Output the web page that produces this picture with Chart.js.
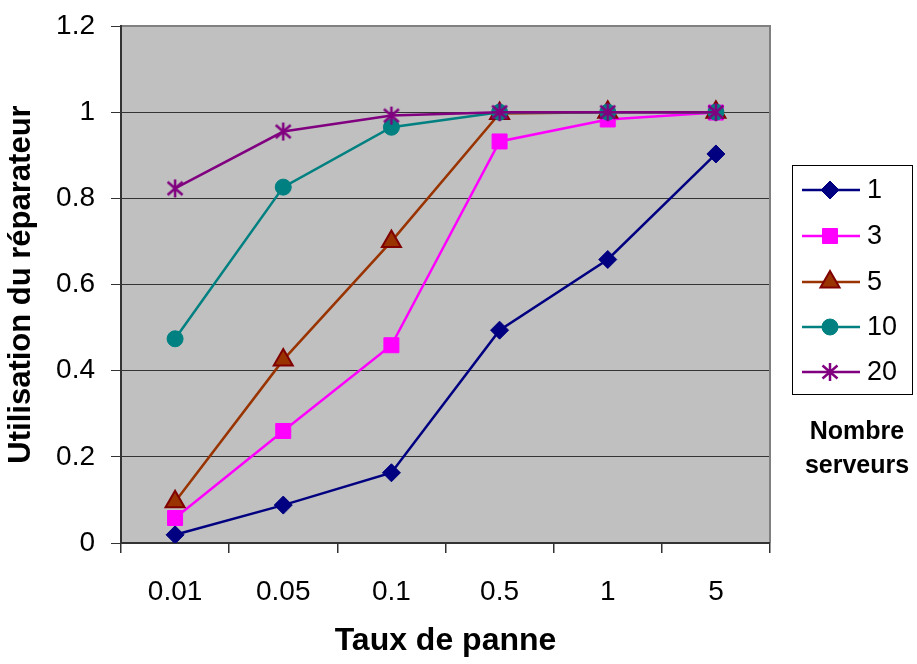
<!DOCTYPE html>
<html>
<head>
<meta charset="utf-8">
<script src="https://cdn.jsdelivr.net/npm/chart.js@4/dist/chart.umd.min.js"></script>
<style>
  html, body { margin: 0; padding: 0; background: #ffffff; }
  #wrap { width: 917px; height: 664px; }
</style>
</head>
<body>
<div id="wrap"><canvas id="c" width="917" height="664"></canvas></div>
<script>
// Failure rates (x categories)
const categories = ['0.01', '0.05', '0.1', '0.5', '1', '5'];
// Repairer utilisation for each number of servers
const serveurs1 = [0.019, 0.088, 0.163, 0.494, 0.658, 0.903];
const serveurs3 = [0.058, 0.260, 0.459, 0.932, 0.983, 0.999];
const serveurs5 = [0.096, 0.425, 0.700, 0.997, 1.000, 1.000];
const serveurs10 = [0.474, 0.826, 0.965, 1.000, 1.000, 1.000];
const serveurs20 = [0.823, 0.955, 0.992, 1.000, 1.000, 1.000];
const seriesNames = ['1', '3', '5', '10', '20'];
const yTickLabels = ['0', '0.2', '0.4', '0.6', '0.8', '1', '1.2'];

const FONT = '"Liberation Sans", Arial, sans-serif';

// Asterisk marker: vertical bar plus an X
function makeStar(color) {
  const cv = document.createElement('canvas');
  cv.width = 20; cv.height = 20;
  const g = cv.getContext('2d');
  g.strokeStyle = color;
  g.lineWidth = 2.5;
  g.lineCap = 'butt';
  g.beginPath();
  g.moveTo(10, 1); g.lineTo(10, 19);
  g.moveTo(2.5, 3.5); g.lineTo(17.5, 16.5);
  g.moveTo(17.5, 3.5); g.lineTo(2.5, 16.5);
  g.stroke();
  return cv;
}
const starMarker = makeStar('#800080');

const datasets = [
  { label: seriesNames[0], data: serveurs1, borderColor: '#000080', backgroundColor: '#000080',
    pointStyle: 'rectRot', pointRadius: 9, pointBorderColor: '#000080', order: 4 },
  { label: seriesNames[1], data: serveurs3, borderColor: '#FF00FF', backgroundColor: '#FF00FF',
    pointStyle: 'rect', pointRadius: 10.6, pointBorderColor: '#FF00FF', order: 3 },
  { label: seriesNames[2], data: serveurs5, borderColor: '#993300', backgroundColor: '#993300',
    pointStyle: 'triangle', pointRadius: 11, pointBorderColor: '#800000', pointBorderWidth: 2, order: 2 },
  { label: seriesNames[3], data: serveurs10, borderColor: '#008080', backgroundColor: '#008080',
    pointStyle: 'circle', pointRadius: 8, pointBorderColor: '#008080', order: 1 },
  { label: seriesNames[4], data: serveurs20, borderColor: '#800080', backgroundColor: '#800080',
    pointStyle: starMarker, pointRadius: 10, pointBorderColor: '#800080', order: 0 }
].map(d => Object.assign({ borderWidth: 2.5, tension: 0, pointBorderWidth: d.pointBorderWidth || 1, fill: false }, d));

// Grey plot background and frame
const plotFrame = {
  id: 'plotFrame',
  beforeDraw(chart) {
    const { ctx, chartArea: a } = chart;
    ctx.save();
    ctx.fillStyle = '#C0C0C0';
    ctx.fillRect(a.left, a.top, a.right - a.left, a.bottom - a.top);
    ctx.restore();
  },
  beforeDatasetsDraw(chart) {
    const { ctx, chartArea: a } = chart;
    ctx.save();
    ctx.strokeStyle = '#808080';
    ctx.lineWidth = 2;
    ctx.beginPath();
    ctx.moveTo(a.left, a.top);
    ctx.lineTo(a.right, a.top);
    ctx.lineTo(a.right, a.bottom);
    ctx.stroke();
    ctx.strokeStyle = '#333333';
    ctx.beginPath();
    ctx.moveTo(a.left, a.top - 1);
    ctx.lineTo(a.left, a.bottom);
    ctx.lineTo(a.right, a.bottom);
    ctx.stroke();
    ctx.restore();
  }
};

// Boxed legend on the right with its caption underneath
const sideLegend = {
  id: 'sideLegend',
  afterDraw(chart) {
    const { ctx } = chart;
    const box = { x: 792.5, y: 165.5, w: 120, h: 229 };
    ctx.save();
    ctx.fillStyle = '#ffffff';
    ctx.fillRect(box.x, box.y, box.w, box.h);
    ctx.strokeStyle = '#000000';
    ctx.lineWidth = 1;
    ctx.strokeRect(box.x, box.y, box.w, box.h);
    const rowY = [190, 236, 282, 327, 372];
    chart.data.datasets.forEach((ds, i) => {
      const y = rowY[i];
      ctx.strokeStyle = ds.borderColor;
      ctx.lineWidth = 2.5;
      ctx.beginPath();
      ctx.moveTo(802, y);
      ctx.lineTo(860, y);
      ctx.stroke();
      ctx.fillStyle = ds.backgroundColor;
      ctx.strokeStyle = ds.pointBorderColor;
      ctx.lineWidth = ds.pointBorderWidth;
      Chart.helpers.drawPoint(ctx, {
        pointStyle: ds.pointStyle, radius: ds.pointRadius, rotation: 0, borderWidth: ds.pointBorderWidth
      }, 830, y);
      ctx.fillStyle = '#000000';
      ctx.font = '27px ' + FONT;
      ctx.textAlign = 'left';
      ctx.textBaseline = 'middle';
      ctx.fillText(ds.label, 867, y + 1);
    });
    ctx.fillStyle = '#000000';
    ctx.font = 'bold 25px ' + FONT;
    ctx.textAlign = 'center';
    ctx.textBaseline = 'middle';
    ctx.fillText('Nombre', 857, 432);
    ctx.fillText('serveurs', 857, 466);
    ctx.restore();
  }
};

new Chart(document.getElementById('c'), {
  type: 'line',
  data: { labels: categories, datasets },
  plugins: [plotFrame, sideLegend],
  options: {
    responsive: false,
    animation: false,
    layout: { padding: { top: 26, right: 147, left: 0, bottom: 0 } },
    plugins: { legend: { display: false }, tooltip: { enabled: false } },
    scales: {
      x: {
        type: 'category',
        offset: true,
        afterFit: s => { s.height = 121; s.paddingLeft = 0; s.paddingRight = 0; },
        grid: { offset: true, drawOnChartArea: false, tickLength: 10, color: '#333333', lineWidth: 1.5 },
        border: { display: true, color: '#333333', width: 2 },
        ticks: { color: '#000000', font: { family: FONT, size: 28 }, padding: 22, maxRotation: 0 },
        title: { display: true, text: 'Taux de panne', color: '#000000',
                 font: { family: FONT, size: 32, weight: 'bold' }, padding: { top: 0, bottom: 4 } }
      },
      y: {
        min: 0, max: 1.2,
        afterFit: s => { s.width = 121; s.paddingTop = 0; s.paddingBottom = 0; },
        grid: { color: '#333333', lineWidth: 1, tickLength: 10 },
        border: { display: true, color: '#333333', width: 2 },
        ticks: { stepSize: 0.2, color: '#000000', font: { family: FONT, size: 28 }, padding: 16,
                 callback: (v, i) => yTickLabels[i] },
        title: { display: true, text: 'Utilisation du réparateur', color: '#000000',
                 font: { family: FONT, size: 31, weight: 'bold' }, padding: { top: 3, bottom: 0 } }
      }
    }
  }
});
</script>
</body>
</html>
